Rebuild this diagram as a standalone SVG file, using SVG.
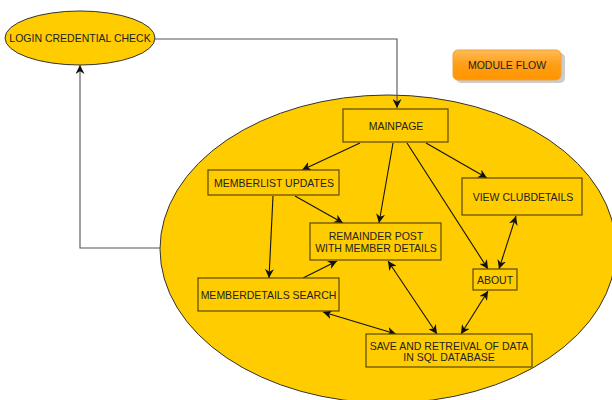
<svg xmlns="http://www.w3.org/2000/svg" width="612" height="400" viewBox="0 0 612 400">
<style>
.node{fill:#FFCC00;stroke:#5a4800;stroke-width:1.2}
.oval{fill:#FFCC00;stroke:#333;stroke-width:1}
.t{font-family:"Liberation Sans",Arial,sans-serif;font-size:10.5px;fill:#222;text-anchor:middle}
.c{fill:none;stroke:#111;stroke-width:1.1}
.g{fill:none;stroke:#555;stroke-width:1.1}
</style>
<defs>
<marker id="ah" viewBox="0 0 10 10" refX="10" refY="5" markerWidth="9" markerHeight="9" markerUnits="userSpaceOnUse" orient="auto-start-reverse">
<path d="M0,0 L10,5 L0,10 L3,5 z" fill="#111"/>
</marker>
<linearGradient id="btn" x1="0" y1="0" x2="0" y2="1">
<stop offset="0" stop-color="#FFBB55"/>
<stop offset="0.5" stop-color="#FF9E14"/>
<stop offset="1" stop-color="#FF9500"/>
</linearGradient>
</defs>
<rect width="612" height="400" fill="#fff"/>
<g id="login">
<ellipse class="oval" cx="80" cy="38" rx="75" ry="27"/>
<text class="t" x="80" y="42">LOGIN CREDENTIAL CHECK</text>
</g>
<g id="module-flow">
<rect x="456" y="53" width="109" height="30" rx="5" fill="#999" opacity="0.5"/>
<rect x="453" y="50" width="108" height="30" rx="5" fill="url(#btn)" stroke="#F0A040" stroke-width="1"/>
<text class="t" x="507" y="69">MODULE FLOW</text>
</g>
<g id="system">
<ellipse class="oval" cx="388" cy="249" rx="228" ry="154"/>
</g>
<g id="connectors">
<path class="g" d="M154,39 L397,39 L397,108" marker-end="url(#ah)"/>
<path class="g" d="M160,248 L80,248 L80,65" marker-end="url(#ah)"/>
<path class="c" d="M360,143 L302,170" marker-end="url(#ah)"/>
<path class="c" d="M393,143 L379,223" marker-end="url(#ah)"/>
<path class="c" d="M407,143 L488,269" marker-end="url(#ah)"/>
<path class="c" d="M426,143 L487,178" marker-end="url(#ah)"/>
<path class="c" d="M295,196 L343,223" marker-end="url(#ah)"/>
<path class="c" d="M273,196 L269,278" marker-end="url(#ah)"/>
<path class="c" d="M303,278 L337,261" marker-end="url(#ah)"/>
<path class="c" d="M388,261 L437,334" marker-start="url(#ah)" marker-end="url(#ah)"/>
<path class="c" d="M323,312 L396,334" marker-start="url(#ah)" marker-end="url(#ah)"/>
<path class="c" d="M488,291 L461,334" marker-start="url(#ah)" marker-end="url(#ah)"/>
<path class="c" d="M516,216 L499,269" marker-start="url(#ah)" marker-end="url(#ah)"/>
</g>
<g id="mainpage">
<rect class="node" x="343" y="109" width="105" height="33"/>
<text class="t" x="396" y="129.5">MAINPAGE</text>
</g>
<g id="memberlist">
<rect class="node" x="208" y="170" width="131" height="25"/>
<text class="t" x="274" y="187">MEMBERLIST UPDATES</text>
</g>
<g id="remainder">
<rect class="node" x="310" y="223" width="131" height="37"/>
<text class="t" x="376" y="240">REMAINDER POST</text>
<text class="t" x="376" y="251.5">WITH MEMBER DETAILS</text>
</g>
<g id="clubdetails">
<rect class="node" x="462" y="178" width="120" height="37"/>
<text class="t" x="523" y="200.5">VIEW CLUBDETAILS</text>
</g>
<g id="about">
<rect class="node" x="473" y="269" width="44" height="21"/>
<text class="t" x="495" y="284">ABOUT</text>
</g>
<g id="memberdetails">
<rect class="node" x="198" y="278" width="141" height="33"/>
<text class="t" x="268.5" y="299">MEMBERDETAILS SEARCH</text>
</g>
<g id="database">
<rect class="node" x="366" y="334" width="166" height="33"/>
<text class="t" x="449" y="349.5">SAVE AND RETREIVAL OF DATA</text>
<text class="t" x="449" y="360.5">IN SQL DATABASE</text>
</g>
</svg>
